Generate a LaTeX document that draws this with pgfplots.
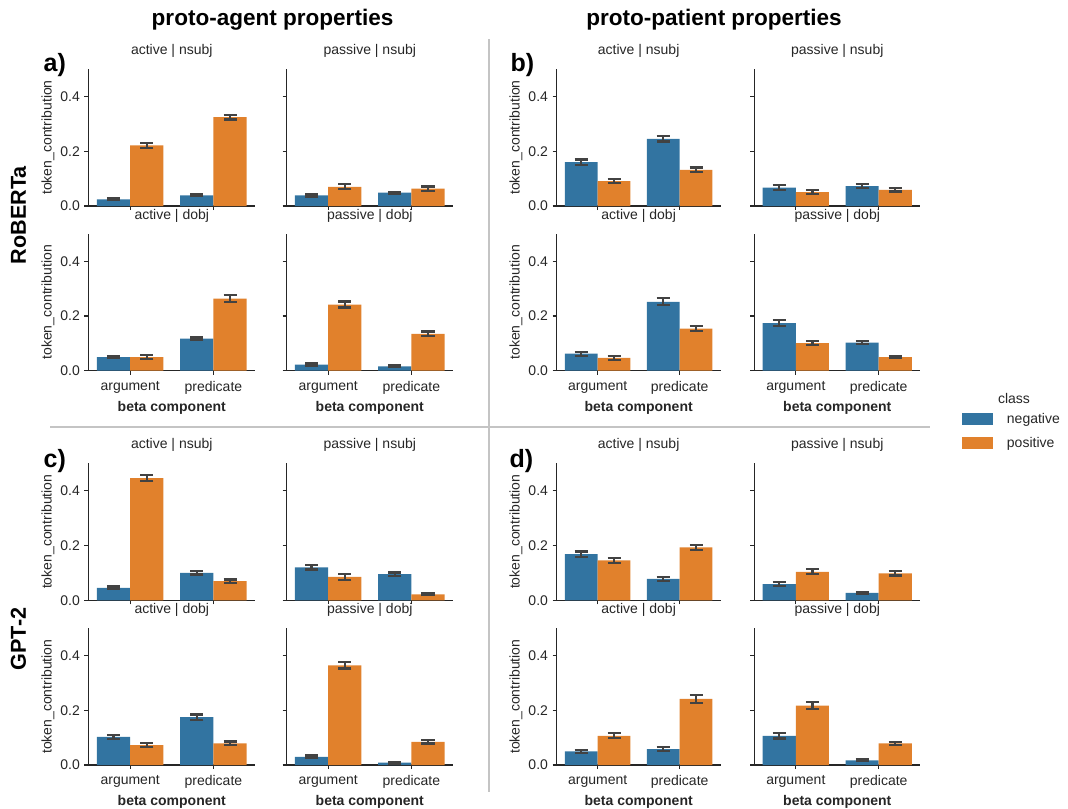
\documentclass[border=0pt]{standalone}
\usepackage{fontspec}
\setmainfont{Liberation Sans}
\usepackage{pgfplots}
\usepackage{pgfplotstable}
\pgfplotsset{compat=1.18}
\definecolor{negblue}{HTML}{3274A1}
\definecolor{posorange}{HTML}{E1812C}
\definecolor{errc}{HTML}{424242}
\definecolor{axc}{HTML}{262626}
\definecolor{sepgray}{HTML}{C4C4C4}
\newcommand{\fs}{\fontsize{10.5}{12.6}\selectfont}

% x = category (0 argument, 1 predicate); neg/pos = bar heights; ne/pe = error half-widths
\pgfplotstableread{
x neg ne pos pe
0 0.024 0.003 0.221 0.008
1 0.039 0.003 0.324 0.008
}\taAN
\pgfplotstableread{
x neg ne pos pe
0 0.039 0.004 0.070 0.009
1 0.049 0.003 0.063 0.008
}\taPN
\pgfplotstableread{
x neg ne pos pe
0 0.050 0.003 0.050 0.008
1 0.117 0.004 0.264 0.012
}\taAD
\pgfplotstableread{
x neg ne pos pe
0 0.022 0.004 0.242 0.011
1 0.016 0.003 0.135 0.008
}\taPD
\pgfplotstableread{
x neg ne pos pe
0 0.160 0.010 0.091 0.008
1 0.245 0.010 0.132 0.009
}\tbAN
\pgfplotstableread{
x neg ne pos pe
0 0.067 0.009 0.051 0.007
1 0.073 0.006 0.059 0.006
}\tbPN
\pgfplotstableread{
x neg ne pos pe
0 0.062 0.007 0.047 0.007
1 0.252 0.013 0.154 0.009
}\tbAD
\pgfplotstableread{
x neg ne pos pe
0 0.174 0.011 0.101 0.008
1 0.103 0.005 0.050 0.004
}\tbPD
\pgfplotstableread{
x neg ne pos pe
0 0.045 0.005 0.446 0.010
1 0.100 0.006 0.070 0.006
}\tcAN
\pgfplotstableread{
x neg ne pos pe
0 0.120 0.008 0.085 0.010
1 0.095 0.006 0.022 0.004
}\tcPN
\pgfplotstableread{
x neg ne pos pe
0 0.103 0.007 0.073 0.007
1 0.175 0.010 0.079 0.007
}\tcAD
\pgfplotstableread{
x neg ne pos pe
0 0.030 0.005 0.365 0.012
1 0.009 0.003 0.085 0.006
}\tcPD
\pgfplotstableread{
x neg ne pos pe
0 0.168 0.010 0.146 0.009
1 0.078 0.008 0.193 0.009
}\tdAN
\pgfplotstableread{
x neg ne pos pe
0 0.059 0.008 0.104 0.009
1 0.027 0.004 0.098 0.008
}\tdPN
\pgfplotstableread{
x neg ne pos pe
0 0.050 0.006 0.107 0.009
1 0.058 0.008 0.242 0.014
}\tdAD
\pgfplotstableread{
x neg ne pos pe
0 0.107 0.010 0.217 0.013
1 0.017 0.003 0.079 0.006
}\tdPD

\pgfplotsset{
  bp/.style={scale only axis, anchor=south west,
    xmin=-0.5, xmax=1.5, ymin=0, ymax=0.5,
    axis x line*=bottom, axis y line*=left,
    axis line style={draw=axc, line width=0.9pt, -},
    xtick={0,1}, ytick={0,0.2,0.4},
    tick align=outside, major tick length=3pt,
    tick style={draw=axc, line width=0.8pt},
    ticklabel style={font=\fs, text=axc},
    xticklabel style={yshift=-1.2pt},
    title style={font=\fs, text=axc, at={(0.5,1)}, anchor=base, yshift=4.9pt},
    every axis y label/.style={at={(axis description cs:0,0.5)}, xshift=-30.5pt, rotate=90, anchor=center, font=\fs, text=axc},
    every axis x label/.style={at={(axis description cs:0.5,0)}, yshift=-27.8pt, anchor=center, font=\fs\bfseries, text=axc},
  },
  lc/.style={yticklabels={0.0,0.2,0.4}, ylabel={token\_contribution}},
  rc/.style={yticklabels={}},
  br/.style={xticklabels={argument,predicate}, xlabel={beta component}},
  tr/.style={xticklabels={}},
  errstyle/.style={error bars/.cd, y dir=both, y explicit,
    error bar style={draw=errc, line width=1.7pt},
    error mark options={rotate=90, draw=errc, line width=1.7pt, mark size=4.9pt}},
  negbar/.style={ybar, bar width=0.4, bar shift=0pt, fill=negblue, draw=none, errstyle},
  posbar/.style={ybar, bar width=0.4, bar shift=0pt, fill=posorange, draw=none, errstyle},
}

\newcommand{\sub}[7]{%
\begin{axis}[bp, at={(#1pt,#2pt)}, width=#3pt, height=#4pt, #5, title={#6}]
\addplot[negbar] table[x expr=\thisrow{x}-0.2, y=neg, y error=ne] {#7};
\addplot[posbar] table[x expr=\thisrow{x}+0.2, y=pos, y error=pe] {#7};
\end{axis}}

\begin{document}
\begin{tikzpicture}
\path[use as bounding box] (0pt,0pt) rectangle (801pt,-606pt);

% separators
\draw[sepgray, line width=1.9pt] (366.75pt,-29.25pt) -- (366.75pt,-594pt);
\draw[sepgray, line width=1.9pt] (37.5pt,-320.25pt) -- (697.5pt,-320.25pt);

% column titles
\node[font=\fontsize{16.9}{20}\selectfont\bfseries, anchor=base, inner sep=0pt] at (204.4pt,-18.75pt) {proto-agent properties};
\node[font=\fontsize{16.9}{20}\selectfont\bfseries, anchor=base, inner sep=0pt] at (535.5pt,-18.75pt) {proto-patient properties};

% row titles
\node[font=\fontsize{16.2}{19}\selectfont\bfseries, rotate=90, anchor=center, inner sep=0pt] at (13.9pt,-161.25pt) {RoBERTa};
\node[font=\fontsize{16.2}{19}\selectfont\bfseries, rotate=90, anchor=center, inner sep=0pt] at (13.9pt,-479.25pt) {GPT-2};

% panel letters
\node[font=\fontsize{18.75}{22}\selectfont\bfseries, anchor=base west, inner sep=0pt] at (32.5pt,-53.25pt) {a)};
\node[font=\fontsize{18.75}{22}\selectfont\bfseries, anchor=base west, inner sep=0pt] at (382.75pt,-53.25pt) {b)};
\node[font=\fontsize{18.75}{22}\selectfont\bfseries, anchor=base west, inner sep=0pt] at (32.5pt,-350.25pt) {c)};
\node[font=\fontsize{18.75}{22}\selectfont\bfseries, anchor=base west, inner sep=0pt] at (382pt,-350.25pt) {d)};

% panel a
\sub{66.375}{-154.5}{124.9}{102.75}{lc,tr}{active | nsubj}{\taAN}
\sub{215.0}{-154.5}{124.7}{102.75}{rc,tr}{passive | nsubj}{\taPN}
\sub{66.375}{-278.0}{124.9}{102.5}{lc,br}{active | dobj}{\taAD}
\sub{215.0}{-278.0}{124.7}{102.5}{rc,br}{passive | dobj}{\taPD}
% panel b
\sub{417.5}{-154.5}{123.0}{102.75}{lc,tr}{active | nsubj}{\tbAN}
\sub{565.8}{-154.5}{124.3}{102.75}{rc,tr}{passive | nsubj}{\tbPN}
\sub{417.5}{-278.0}{123.0}{102.5}{lc,br}{active | dobj}{\tbAD}
\sub{565.8}{-278.0}{124.3}{102.5}{rc,br}{passive | dobj}{\tbPD}
% panel c
\sub{66.375}{-450.2}{124.9}{102.75}{lc,tr}{active | nsubj}{\tcAN}
\sub{215.0}{-450.2}{124.7}{102.75}{rc,tr}{passive | nsubj}{\tcPN}
\sub{66.375}{-573.75}{124.9}{102.5}{lc,br}{active | dobj}{\tcAD}
\sub{215.0}{-573.75}{124.7}{102.5}{rc,br}{passive | dobj}{\tcPD}
% panel d
\sub{417.5}{-450.2}{123.0}{102.75}{lc,tr}{active | nsubj}{\tdAN}
\sub{565.8}{-450.2}{124.3}{102.75}{rc,tr}{passive | nsubj}{\tdPN}
\sub{417.5}{-573.75}{123.0}{102.5}{lc,br}{active | dobj}{\tdAD}
\sub{565.8}{-573.75}{124.3}{102.5}{rc,br}{passive | dobj}{\tdPD}

% legend
\node[font=\fs, text=axc, anchor=center] at (760.5pt,-298.5pt) {class};
\begin{axis}[hide axis, scale only axis, width=10pt, height=10pt,
  at={(721.5pt,-307.5pt)}, anchor=north west, xmin=0, xmax=1, ymin=0, ymax=1,
  legend style={at={(0,1)}, anchor=north west, draw=none, fill=none, inner sep=0pt,
    font=\fs, text=axc, row sep=5pt, cells={anchor=west},
    nodes={inner xsep=0pt},
    /tikz/every odd column/.append style={column sep=10.25pt}},
  legend image code/.code={\fill[#1] (0pt,-4.5pt) rectangle (23.25pt,4.5pt);}]
\addlegendimage{fill=negblue, draw=none}
\addlegendentry{negative}
\addlegendimage{fill=posorange, draw=none}
\addlegendentry{positive}
\end{axis}
\end{tikzpicture}
\end{document}
